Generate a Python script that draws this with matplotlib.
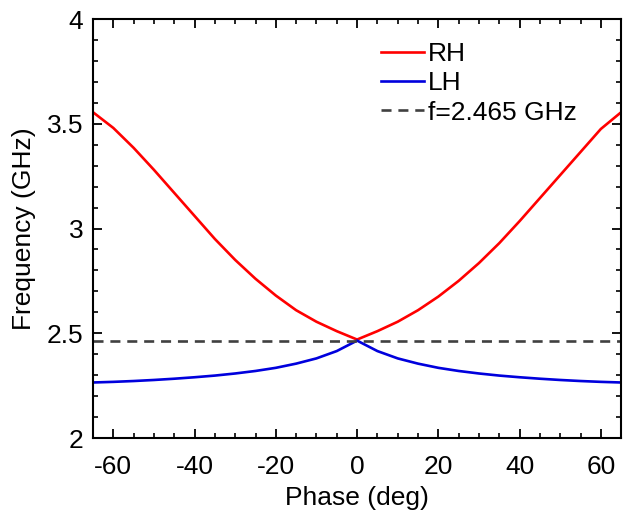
import matplotlib
matplotlib.use("Agg")
import matplotlib.pyplot as plt
from matplotlib.ticker import MultipleLocator

plt.rcParams.update({
    "font.family": ["Liberation Sans", "DejaVu Sans"],
    "font.size": 19,
    "axes.linewidth": 1.5,
    "axes.unicode_minus": False,
    "xtick.direction": "in",
    "ytick.direction": "in",
    "xtick.top": True,
    "ytick.right": True,
})

# phase (deg) and frequency (GHz)
phase = [-65, -60, -55, -50, -45, -40, -35, -30, -25, -20, -15, -10, -5, 0,
         5, 10, 15, 20, 25, 30, 35, 40, 45, 50, 55, 60, 65]
rh_freq = [3.555, 3.48, 3.385, 3.28, 3.17, 3.06, 2.95, 2.85, 2.76, 2.68, 2.61, 2.555, 2.51, 2.47,
           2.51, 2.555, 2.61, 2.675, 2.75, 2.835, 2.93, 3.035, 3.145, 3.255, 3.365, 3.475, 3.555]
lh_freq = [2.265, 2.268, 2.272, 2.277, 2.283, 2.29, 2.298, 2.308, 2.32, 2.335, 2.355, 2.38, 2.415, 2.465,
           2.415, 2.38, 2.355, 2.335, 2.32, 2.308, 2.298, 2.29, 2.283, 2.277, 2.272, 2.268, 2.265]
f_op = 2.465

fig = plt.figure(figsize=(6.34, 5.15), dpi=100)
ax = fig.add_axes([0.1467, 0.1495, 0.833, 0.8136])

ax.plot(phase, rh_freq, color="#ff0000", linewidth=1.9, label="RH")
ax.plot(phase, lh_freq, color="#0000dd", linewidth=1.9, label="LH")
ax.axhline(f_op, color="#404040", linewidth=1.9, linestyle=(0, (3.8, 2.6)),
           label=f"f={f_op} GHz")

ax.set_xlim(-65, 65)
ax.set_ylim(2, 4)
ax.xaxis.set_major_locator(MultipleLocator(20))
ax.xaxis.set_minor_locator(MultipleLocator(5))
ax.yaxis.set_minor_locator(MultipleLocator(0.1))
ax.set_yticks([2, 2.5, 3, 3.5, 4])
ax.set_yticklabels(["2", "2.5", "3", "3.5", "4"])
ax.tick_params(which="major", length=6.5, width=1.3, labelsize=19, pad=7)
ax.tick_params(axis="x", which="major", pad=12)
ax.tick_params(which="minor", length=3.5, width=1.2)

ax.set_xlabel("Phase (deg)", fontsize=19, labelpad=5)
ax.set_ylabel("Frequency (GHz)", fontsize=19, labelpad=8)

ax.legend(loc="upper left", bbox_to_anchor=(0.545, 0.945), frameon=False,
          fontsize=19, borderpad=0, handlelength=1.65, handletextpad=0.15,
          labelspacing=0.2, borderaxespad=0)

fig.savefig("out.png", dpi=100)
